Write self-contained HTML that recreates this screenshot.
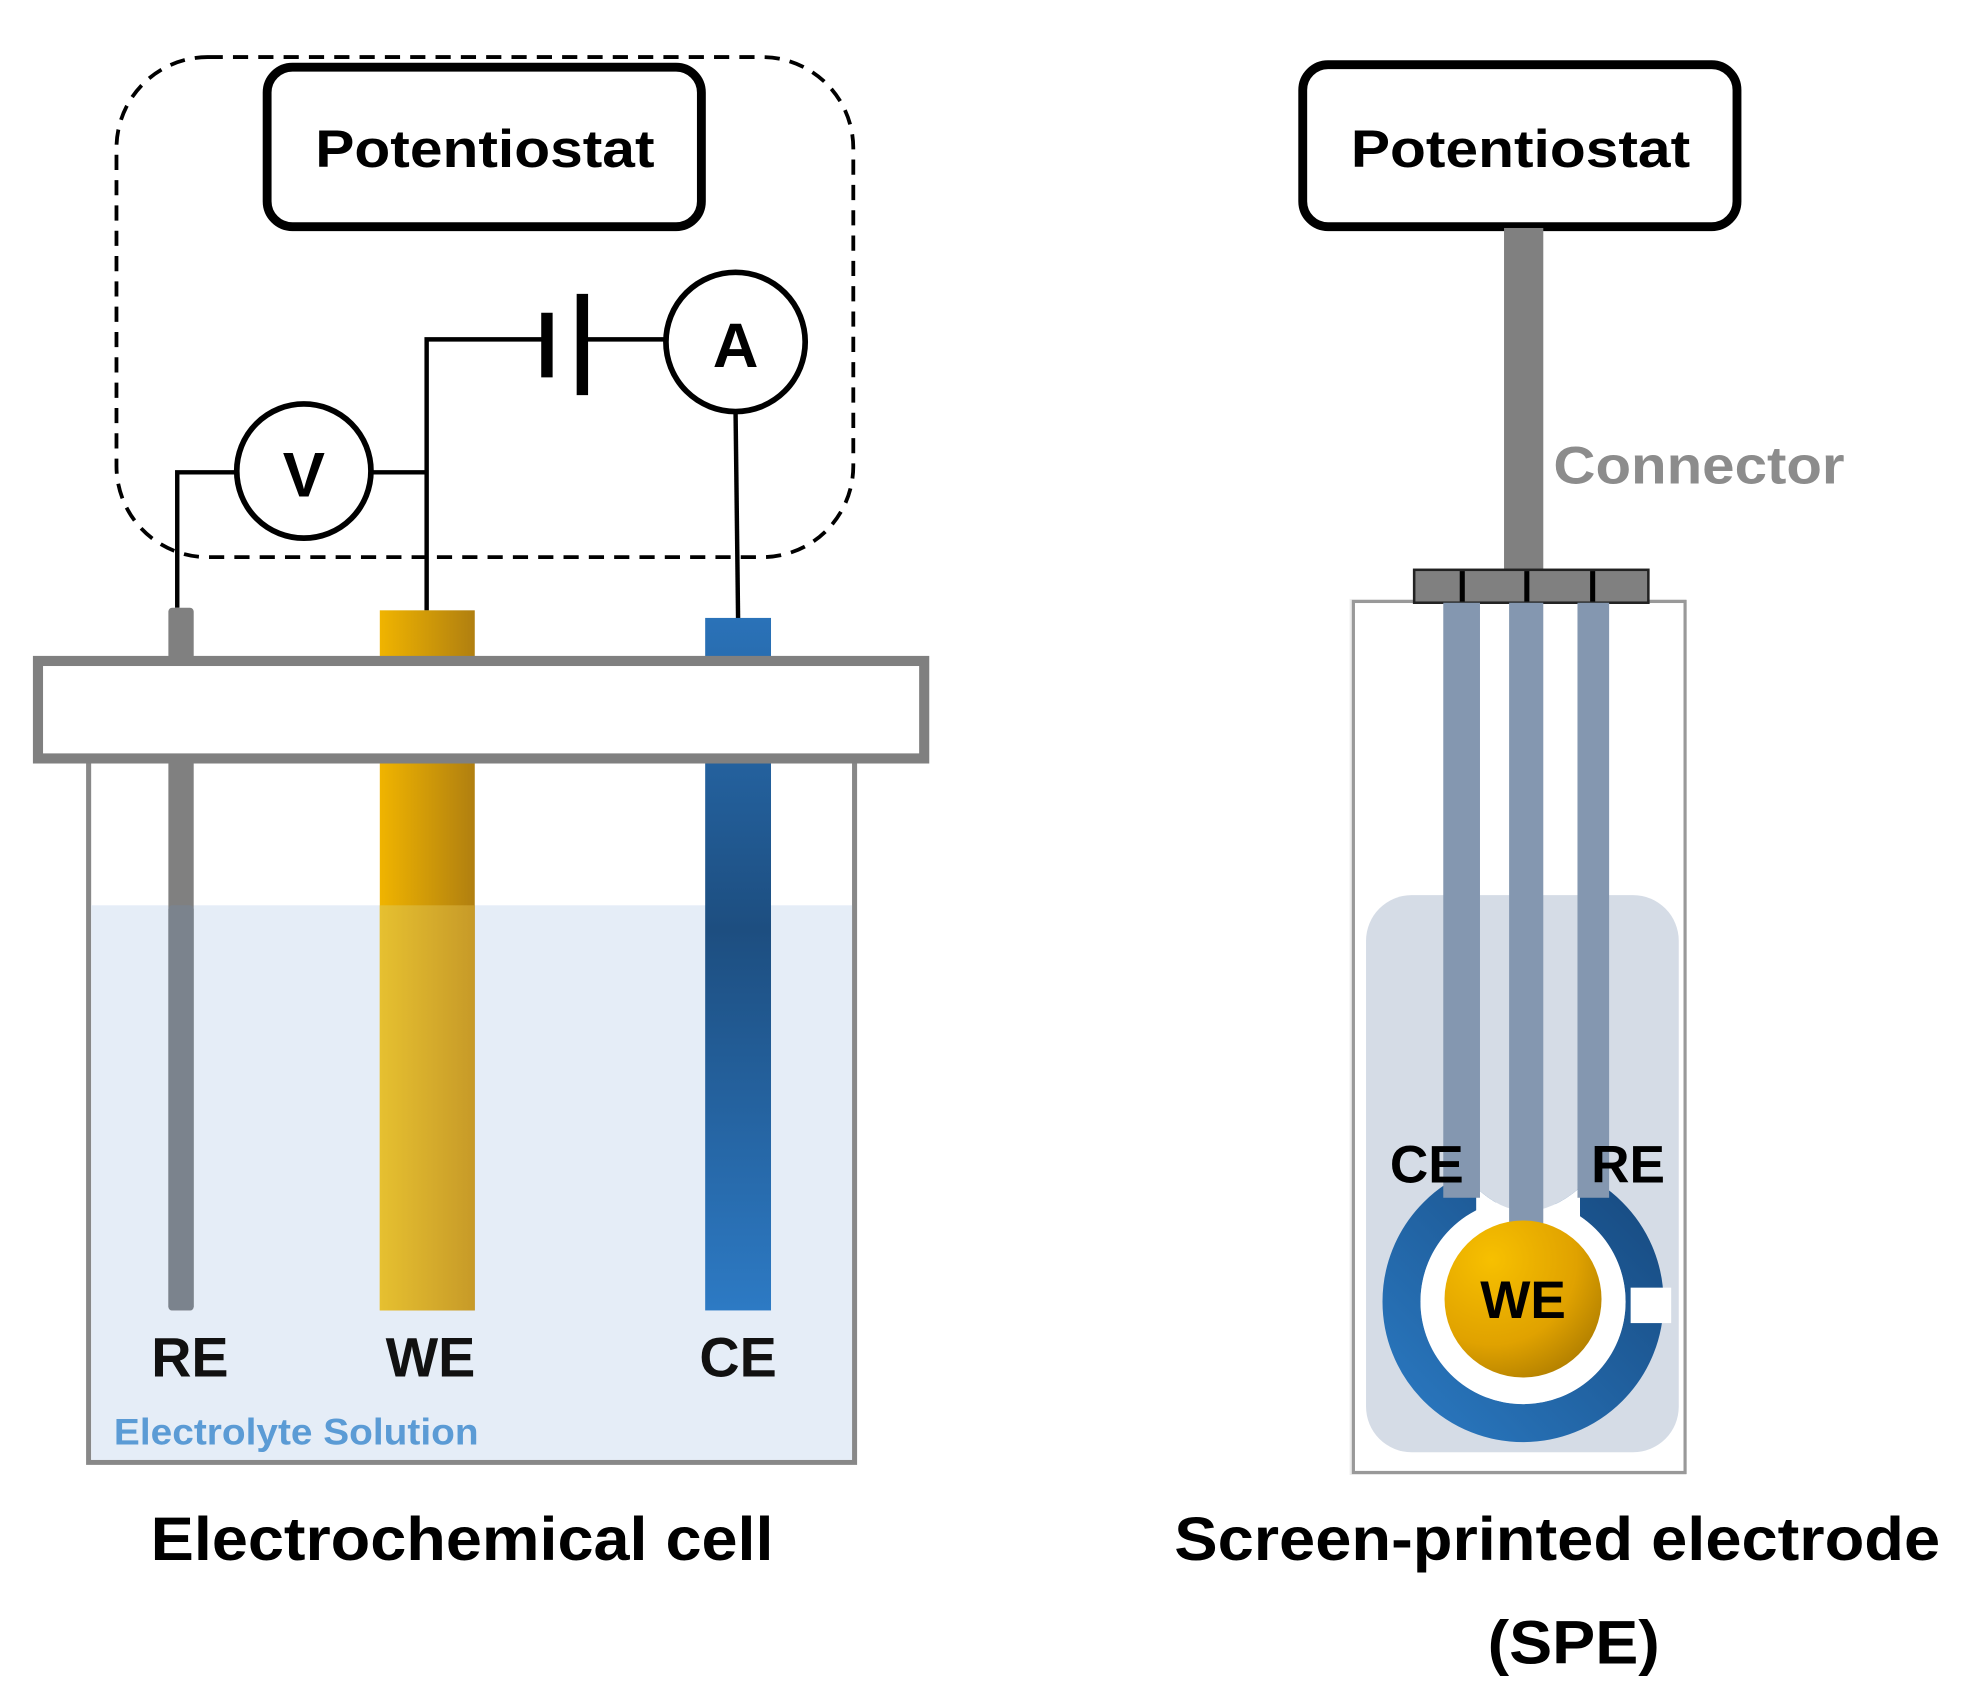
<!DOCTYPE html>
<html><head><meta charset="utf-8"><style>html,body{margin:0;padding:0;background:#fff}svg{display:block}</style></head>
<body>
<svg width="1975" height="1703" viewBox="0 0 1560 1345" xmlns="http://www.w3.org/2000/svg" font-family="'Liberation Sans', Arial, sans-serif" font-weight="bold">
<defs>
<linearGradient id="gold" x1="0" x2="1" y1="0" y2="0"><stop offset="0" stop-color="#f0b400"/><stop offset="1" stop-color="#b07f10"/></linearGradient>
<linearGradient id="goldw" x1="0" x2="1" y1="0" y2="0"><stop offset="0" stop-color="#e6c030"/><stop offset="1" stop-color="#c79a28"/></linearGradient>
<linearGradient id="blue" x1="0" x2="0" y1="0" y2="1"><stop offset="0" stop-color="#2a72b8"/><stop offset="0.45" stop-color="#1d4e80"/><stop offset="1" stop-color="#2d7ac4"/></linearGradient>
<radialGradient id="disc" cx="0.3" cy="0.25" r="0.9"><stop offset="0" stop-color="#f7c000"/><stop offset="0.6" stop-color="#e0a200"/><stop offset="1" stop-color="#a87800"/></radialGradient>
<linearGradient id="ring" x1="0" x2="1" y1="1" y2="0"><stop offset="0" stop-color="#2a78c0"/><stop offset="1" stop-color="#174a80"/></linearGradient>
</defs>

<!-- LEFT -->
<rect x="92" y="45" width="582" height="395" rx="72" fill="none" stroke="#000" stroke-width="3" stroke-dasharray="12,8"/>
<rect x="211" y="53" width="343" height="126" rx="20" fill="#fff" stroke="#000" stroke-width="7"/>
<text x="383" y="132" font-size="42" text-anchor="middle" textLength="268" lengthAdjust="spacingAndGlyphs">Potentiostat</text>

<g stroke="#000" stroke-width="3.5" fill="none">
<polyline points="140,480 140,373 187,373"/>
<line x1="293" y1="373" x2="337" y2="373"/>
<polyline points="337,482 337,268 430,268"/>
<line x1="460" y1="268" x2="527" y2="268"/>
<line x1="581" y1="325" x2="583" y2="489"/>
</g>
<line x1="432" y1="247" x2="432" y2="298" stroke="#000" stroke-width="9"/>
<line x1="460" y1="232" x2="460" y2="312" stroke="#000" stroke-width="9"/>
<circle cx="240" cy="372" r="53" fill="#fff" stroke="#000" stroke-width="4.5"/>
<text x="240" y="392" font-size="50" text-anchor="middle">V</text>
<circle cx="581" cy="270" r="55" fill="#fff" stroke="#000" stroke-width="4.5"/>
<text x="581" y="290" font-size="50" text-anchor="middle">A</text>

<!-- beaker -->
<rect x="70" y="600" width="605" height="555" fill="#fff" stroke="#888" stroke-width="4"/>
<rect x="72" y="715" width="601" height="438" fill="#e5edf7"/>
<!-- rods -->
<rect x="133" y="480" width="20" height="555" rx="3" fill="#808080"/>
<rect x="133" y="715" width="20" height="320" rx="3" fill="#7b838d"/>
<rect x="300" y="482" width="75" height="553" fill="url(#gold)"/>
<rect x="300" y="715" width="75" height="320" fill="url(#goldw)"/>
<rect x="557" y="488" width="52" height="547" fill="url(#blue)"/>
<!-- lid -->
<rect x="30" y="522" width="700" height="77" fill="#fff" stroke="#808080" stroke-width="8"/>

<text x="150" y="1087" font-size="44" text-anchor="middle" fill="#111">RE</text>
<text x="340" y="1087" font-size="44" text-anchor="middle" fill="#111">WE</text>
<text x="583" y="1087" font-size="44" text-anchor="middle" fill="#111">CE</text>
<text x="90" y="1141" font-size="29" fill="#5b9bd5" textLength="288" lengthAdjust="spacingAndGlyphs">Electrolyte Solution</text>
<text x="365" y="1232" font-size="48" text-anchor="middle" fill="#000" textLength="492" lengthAdjust="spacingAndGlyphs">Electrochemical cell</text>

<!-- RIGHT -->
<rect x="1029" y="51" width="343" height="128" rx="20" fill="#fff" stroke="#000" stroke-width="7"/>
<text x="1201" y="132" font-size="42" text-anchor="middle" textLength="268" lengthAdjust="spacingAndGlyphs">Potentiostat</text>
<rect x="1188" y="180" width="31" height="272" fill="#808080"/>
<text x="1227" y="382" font-size="42" fill="#8c8c8c" textLength="230" lengthAdjust="spacingAndGlyphs">Connector</text>

<rect x="1066" y="473" width="266" height="692" fill="#eee"/>
<rect x="1069" y="475" width="262" height="688" fill="#fff" stroke="#999" stroke-width="2.5"/>
<rect x="1117" y="450" width="185" height="26" fill="#808080" stroke="#222" stroke-width="2"/>
<g fill="#000"><rect x="1153" y="451" width="4" height="24"/><rect x="1204" y="451" width="4" height="24"/><rect x="1256" y="451" width="4" height="24"/></g>
<rect x="1079" y="707" width="247" height="440" rx="36" fill="#d5dce6"/>

<!-- ring -->
<circle cx="1203" cy="1028" r="96" fill="none" stroke="url(#ring)" stroke-width="30"/>
<circle cx="1203" cy="1028" r="81" fill="#fff"/>
<path d="M1166,938 Q1205,975 1248,938 L1248,995 L1166,995 Z" fill="#fff"/>
<path d="M1166,905 L1248,905 L1248,938 Q1205,975 1166,938 Z" fill="#d5dce6"/>
<rect x="1288" y="1017" width="32" height="28" fill="#fff"/>

<rect x="1140" y="476" width="29" height="470" fill="#8497b0"/>
<rect x="1192" y="476" width="27" height="492" fill="#8497b0"/>
<rect x="1246" y="476" width="25" height="470" fill="#8497b0"/>

<circle cx="1203" cy="1026" r="62" fill="url(#disc)"/>
<text x="1203" y="1041" font-size="42" text-anchor="middle" fill="#000">WE</text>
<text x="1127" y="934" font-size="42" text-anchor="middle" fill="#000">CE</text>
<text x="1286" y="934" font-size="42" text-anchor="middle" fill="#000">RE</text>

<text x="1230" y="1232" font-size="48" text-anchor="middle" fill="#000" textLength="605" lengthAdjust="spacingAndGlyphs">Screen-printed electrode</text>
<text x="1243" y="1314" font-size="48" text-anchor="middle" fill="#000" textLength="136" lengthAdjust="spacingAndGlyphs">(SPE)</text>
</svg>
</body></html>
